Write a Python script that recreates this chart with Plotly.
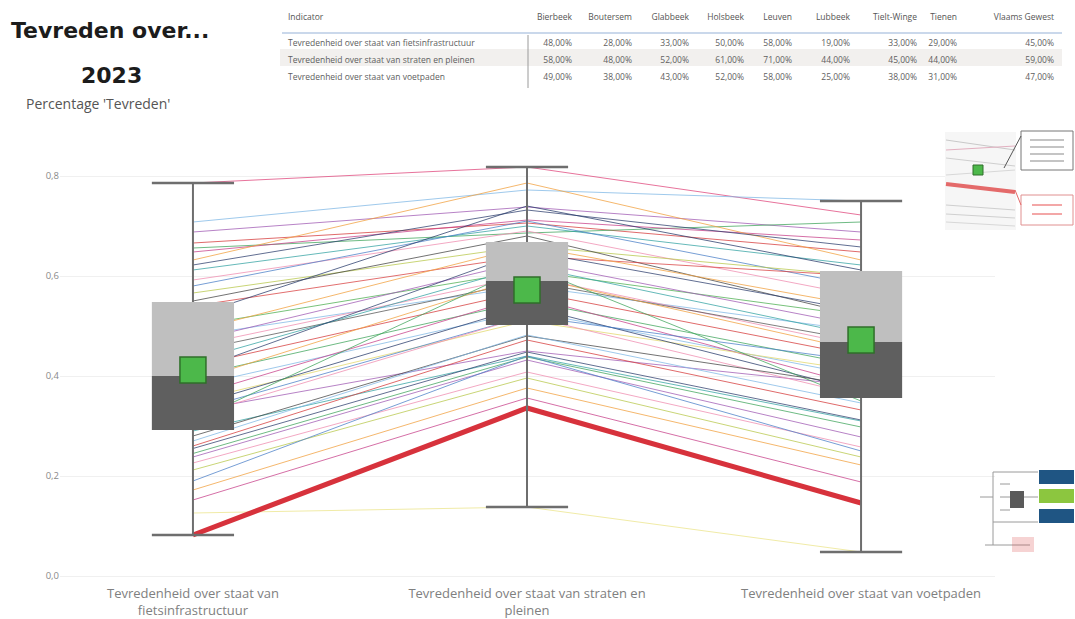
import plotly.graph_objects as go

W, H = 1075, 619

# ---------------- data ----------------
categories = [
    "Tevredenheid over staat van<br>fietsinfrastructuur",
    "Tevredenheid over staat van straten en<br>pleinen",
    "Tevredenheid over staat van voetpaden",
]

# one value per municipality (line) for each indicator
fiets = [0.786, 0.708, 0.688, 0.666, 0.656, 0.648, 0.632, 0.622, 0.612, 0.592, 0.58, 0.566,
         0.55, 0.54, 0.52, 0.50, 0.49, 0.48, 0.47, 0.46, 0.45, 0.43, 0.42, 0.41,
         0.40, 0.39, 0.38, 0.36, 0.35, 0.34, 0.33, 0.33, 0.32, 0.31, 0.29, 0.28,
         0.270, 0.260, 0.255, 0.245, 0.238, 0.226, 0.212, 0.19, 0.172, 0.152, 0.126, 0.082]
straten = [0.818, 0.772, 0.738, 0.706, 0.686, 0.712, 0.786, 0.732, 0.700, 0.690, 0.71, 0.660,
           0.680, 0.640, 0.740, 0.61, 0.660, 0.58, 0.630, 0.600, 0.59, 0.620, 0.570, 0.650,
           0.550, 0.600, 0.530, 0.560, 0.510, 0.540, 0.52, 0.45, 0.520, 0.620, 0.44, 0.48,
           0.482, 0.472, 0.448, 0.438, 0.432, 0.408, 0.396, 0.44, 0.376, 0.356, 0.138, 0.336]
voetpaden = [0.722, 0.750, 0.688, 0.648, 0.708, 0.672, 0.632, 0.658, 0.622, 0.560, 0.58, 0.600,
             0.520, 0.600, 0.612, 0.52, 0.540, 0.49, 0.500, 0.460, 0.47, 0.480, 0.440, 0.530,
             0.420, 0.450, 0.400, 0.380, 0.410, 0.370, 0.43, 0.38, 0.360, 0.350, 0.31, 0.38,
             0.346, 0.332, 0.312, 0.298, 0.278, 0.258, 0.238, 0.25, 0.222, 0.188, 0.048, 0.146]
line_colors = ["#e0457b", "#7fb8e6", "#a05ab4", "#d63a3a", "#3fa55b", "#c8408a", "#f2a03d", "#2e3f6e",
               "#33a3a3", "#f08cb0", "#4a7fc8", "#b8c84a", "#444444", "#d94040", "#273a6a", "#4caf50",
               "#f2a03d", "#7fb8e6", "#a05ab4", "#f08cb0", "#555555", "#33a3a3", "#d63a3a", "#2e3f6e",
               "#3fa55b", "#f2a03d", "#7fb8e6", "#c8408a", "#e3d86a", "#273a6a", "#4a7fc8", "#a05ab4",
               "#f08cb0", "#3fa55b", "#33a3a3", "#444444", "#7fb8e6", "#d63a3a", "#2e3f6e", "#3fa55b",
               "#a05ab4", "#f08cb0", "#b8c84a", "#4a7fc8", "#f2a03d", "#c8408a", "#ece58a", "#d7323c"]
highlight_index = 47

# box summary per indicator (as shown in the chart)
stat_min = [0.082, 0.138, 0.048]
stat_q1 = [0.292, 0.502, 0.356]
stat_median = [0.40, 0.59, 0.468]
stat_q3 = [0.548, 0.668, 0.61]
stat_max = [0.786, 0.818, 0.75]
stat_mean = [0.412, 0.572, 0.472]

# table
table_indicators = [
    "Tevredenheid over staat van fietsinfrastructuur",
    "Tevredenheid over staat van straten en pleinen",
    "Tevredenheid over staat van voetpaden",
]
table_gemeenten = ["Bierbeek", "Boutersem", "Glabbeek", "Holsbeek", "Leuven", "Lubbeek",
                   "Tielt-Winge", "Tienen", "Vlaams Gewest"]
table_fiets = [48, 28, 33, 50, 58, 19, 33, 29, 45]
table_straten = [58, 48, 52, 61, 71, 44, 45, 44, 59]
table_voetpaden = [49, 38, 43, 52, 58, 25, 38, 31, 47]

yticks = [0.0, 0.2, 0.4, 0.6, 0.8]

# ---------------- figure ----------------
def fx(p):
    return p / W

def fy(p):
    return 1 - p / H

fig = go.Figure()
xs = list(range(len(categories)))

# municipality lines
for i in range(len(fiets)):
    if i == highlight_index:
        continue
    fig.add_trace(go.Scatter(
        x=xs, y=[fiets[i], straten[i], voetpaden[i]], mode="lines",
        line=dict(color=line_colors[i], width=1), opacity=0.75,
        showlegend=False, hoverinfo="skip"))

fig.add_trace(go.Scatter(
    x=xs, y=[fiets[highlight_index], straten[highlight_index], voetpaden[highlight_index]],
    mode="lines", line=dict(color=line_colors[highlight_index], width=5),
    showlegend=False, hoverinfo="skip"))

hw = 0.123
# whiskers
for i in xs:
    fig.add_trace(go.Scatter(x=[i, i], y=[stat_min[i], stat_max[i]], mode="lines",
                             line=dict(color="#6e6e6e", width=2), showlegend=False, hoverinfo="skip"))
    for v in (stat_min[i], stat_max[i]):
        fig.add_trace(go.Scatter(x=[i - hw, i + hw], y=[v, v], mode="lines",
                                 line=dict(color="#6e6e6e", width=2.5), showlegend=False, hoverinfo="skip"))

# boxes (light upper half, dark lower half)
for i in xs:
    fig.add_trace(go.Scatter(
        x=[i - hw, i + hw, i + hw, i - hw, i - hw],
        y=[stat_median[i], stat_median[i], stat_q3[i], stat_q3[i], stat_median[i]],
        fill="toself", fillcolor="#bfbfbf", mode="lines", line=dict(width=0, color="#bfbfbf"),
        showlegend=False, hoverinfo="skip"))
    fig.add_trace(go.Scatter(
        x=[i - hw, i + hw, i + hw, i - hw, i - hw],
        y=[stat_q1[i], stat_q1[i], stat_median[i], stat_median[i], stat_q1[i]],
        fill="toself", fillcolor="#5f5f5f", mode="lines", line=dict(width=0, color="#5f5f5f"),
        showlegend=False, hoverinfo="skip"))

# mean markers
fig.add_trace(go.Scatter(
    x=xs, y=stat_mean, mode="markers",
    marker=dict(symbol="square", size=26, color="#4cb84a", line=dict(color="#2f6f2a", width=1.5)),
    showlegend=False, hoverinfo="skip"))

# table
def pct(v):
    return f"{v:.2f}".replace(".", ",") + "%"

cols = [table_indicators]
for k in range(len(table_gemeenten)):
    cols.append([pct(table_fiets[k]), pct(table_straten[k]), pct(table_voetpaden[k])])
row_fill = ["white", "#f2f0ee", "white"]
fig.add_trace(go.Table(
    domain=dict(x=[fx(280), fx(1062)], y=[fy(90), fy(6)]),
    columnwidth=[248, 52, 60, 57, 55, 48, 58, 67, 40, 97],
    header=dict(values=["Indicator"] + table_gemeenten,
                align=["left"] + ["right"] * 9,
                fill=dict(color="white"), line=dict(color="white", width=0),
                font=dict(family="Open Sans", size=8.5, color="#555555"), height=26),
    cells=dict(values=cols, align=["left"] + ["right"] * 9,
               fill=dict(color=[row_fill] * 10), line=dict(color="rgba(0,0,0,0)", width=0),
               font=dict(family="Open Sans", size=8.5, color="#606060"), height=17),
))

shapes = []
# table rules
shapes.append(dict(type="line", xref="paper", yref="paper", x0=fx(282), x1=fx(1062),
                   y0=fy(33), y1=fy(33), line=dict(color="#b9cbe4", width=1.5)))
shapes.append(dict(type="line", xref="paper", yref="paper", x0=fx(528), x1=fx(528),
                   y0=fy(35), y1=fy(88), line=dict(color="#9a9a9a", width=1)))

# thumbnail (top right)
shapes.append(dict(type="rect", xref="paper", yref="paper", x0=fx(945), x1=fx(1016), y0=fy(230), y1=fy(132),
                   line=dict(width=0), fillcolor="#f6f6f6", layer="above"))
for yy0, yy1, c in [(140, 150, "#c9c9c9"), (150, 146, "#e2b0c0"), (158, 166, "#cfcfcf"), (175, 170, "#d8d8d8"),
                    (205, 210, "#cfcfcf"), (214, 218, "#d0d0d0"), (222, 226, "#d8d8d8")]:
    shapes.append(dict(type="line", xref="paper", yref="paper", x0=fx(946), x1=fx(1015), y0=fy(yy0), y1=fy(yy1),
                       line=dict(color=c, width=1), layer="above"))
shapes.append(dict(type="line", xref="paper", yref="paper", x0=fx(946), x1=fx(1015), y0=fy(184), y1=fy(192),
                   line=dict(color="#e46a6a", width=4), layer="above"))
shapes.append(dict(type="rect", xref="paper", yref="paper", x0=fx(973), x1=fx(983), y0=fy(175), y1=fy(165),
                   line=dict(color="#2f6f2a", width=1), fillcolor="#4cb84a", layer="above"))
shapes.append(dict(type="rect", xref="paper", yref="paper", x0=fx(1021), x1=fx(1073), y0=fy(170), y1=fy(131),
                   line=dict(color="#777777", width=1), fillcolor="white", layer="above"))
shapes.append(dict(type="line", xref="paper", yref="paper", x0=fx(1021), x1=fx(1004), y0=fy(136), y1=fy(168),
                   line=dict(color="#555555", width=1), layer="above"))
shapes.append(dict(type="rect", xref="paper", yref="paper", x0=fx(1021), x1=fx(1073), y0=fy(225), y1=fy(195),
                   line=dict(color="#e09090", width=1), fillcolor="white", layer="above"))
shapes.append(dict(type="line", xref="paper", yref="paper", x0=fx(1015), x1=fx(1021), y0=fy(190), y1=fy(205),
                   line=dict(color="#e46a6a", width=1), layer="above"))
for yy in (140, 147, 154, 161):
    shapes.append(dict(type="line", xref="paper", yref="paper", x0=fx(1030), x1=fx(1064), y0=fy(yy), y1=fy(yy),
                       line=dict(color="#b0b0b0", width=1.5), layer="above"))
for yy in (205, 214):
    shapes.append(dict(type="line", xref="paper", yref="paper", x0=fx(1032), x1=fx(1062), y0=fy(yy), y1=fy(yy),
                       line=dict(color="#ef8a8a", width=1.5), layer="above"))

# thumbnail (bottom right)
for yy0, yy1, c in [(470, 484, "#1f5583"), (489, 503, "#8cc63f"), (509, 523, "#1f5583")]:
    shapes.append(dict(type="rect", xref="paper", yref="paper", x0=fx(1039), x1=fx(1074), y0=fy(yy1), y1=fy(yy0),
                       line=dict(width=0), fillcolor=c, layer="above"))
shapes.append(dict(type="rect", xref="paper", yref="paper", x0=fx(1010), x1=fx(1024), y0=fy(508), y1=fy(491),
                   line=dict(width=0), fillcolor="#5a5a5a", layer="above"))
for seg in [((993, 472), (1038, 472)), ((993, 522), (1038, 522)), ((993, 472), (993, 545)),
            ((980, 497), (993, 497)), ((1000, 484), (1010, 484)), ((1000, 497), (1010, 497)),
            ((1000, 510), (1010, 510)), ((1024, 497), (1038, 497)), ((985, 545), (1030, 545))]:
    (a, b), (c2, d) = seg
    shapes.append(dict(type="line", xref="paper", yref="paper", x0=fx(a), x1=fx(c2), y0=fy(b), y1=fy(d),
                       line=dict(color="#9a9a9a", width=1), layer="above"))
shapes.append(dict(type="rect", xref="paper", yref="paper", x0=fx(1012), x1=fx(1034), y0=fy(552), y1=fy(537),
                   line=dict(width=0), fillcolor="rgba(220,80,80,0.25)", layer="above"))

annotations = [
    dict(text="<b>Tevreden over...</b>", x=fx(9), y=fy(30), xref="paper", yref="paper",
         xanchor="left", yanchor="middle", showarrow=False,
         font=dict(family="DejaVu Sans", size=22, color="#1c1c1c")),
    dict(text="<b>2023</b>", x=fx(111), y=fy(75), xref="paper", yref="paper",
         xanchor="center", yanchor="middle", showarrow=False,
         font=dict(family="DejaVu Sans", size=22, color="#1c1c1c")),
    dict(text="Percentage 'Tevreden'", x=fx(24), y=fy(103), xref="paper", yref="paper",
         xanchor="left", yanchor="middle", showarrow=False,
         font=dict(family="Open Sans", size=14, color="#555555")),
]

fig.update_layout(
    width=W, height=H,
    margin=dict(l=0, r=0, t=0, b=0, pad=0),
    paper_bgcolor="white", plot_bgcolor="white",
    separators=",.",
    shapes=shapes, annotations=annotations,
    xaxis=dict(domain=[fx(60), fx(995)], range=[-0.398, 2.401], tickmode="array",
               tickvals=xs, ticktext=categories, showgrid=False, zeroline=False, showline=False,
               ticks="", automargin=False, ticklabelstandoff=3,
               tickfont=dict(family="Open Sans", size=13, color="#808080")),
    yaxis=dict(domain=[fy(581), fy(140)], range=[-0.01, 0.872], tickmode="array",
               tickvals=yticks, tickformat=".1f", showgrid=True, gridcolor="#f0f0f0",
               zeroline=False, showline=False, ticks="", automargin=False,
               tickfont=dict(family="Open Sans", size=9.5, color="#8a8a8a")),
)

fig.write_html("out.html", config={"displayModeBar": False},
               post_script="document.body.style.margin='0px';")
